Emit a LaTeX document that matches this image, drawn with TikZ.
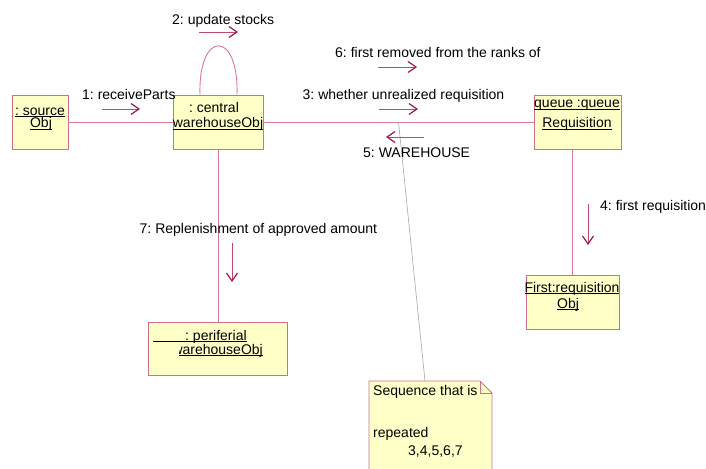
\documentclass[tikz,border=0pt]{standalone}
\usepackage{fontspec}
\setmainfont{Liberation Sans}
\usetikzlibrary{arrows.meta,calc}
\definecolor{linkpink}{RGB}{214,120,150}
\definecolor{msgred}{RGB}{160,24,72}
\definecolor{msgshaft}{RGB}{196,70,110}
\definecolor{boxedge}{RGB}{208,112,136}
\definecolor{boxfill}{RGB}{255,255,200}
\newcommand{\uo}[1]{\underline{\smash{#1}}}
\frenchspacing
\begin{document}
\begin{tikzpicture}[x=1pt, y=-1pt,
		every node/.style={font=\fontsize{14}{16}\selectfont, inner sep=0pt},
		objbox/.style={draw=boxedge, fill=boxfill, line width=0.9pt},
		link/.style={draw=linkpink, line width=0.9pt},
		msg/.style={draw=msgshaft, line width=0.9pt, -{Straight Barb[length=8pt,width=11pt,color=msgred,line width=1.2pt]}},
		txt/.style={anchor=base west},
		ctxt/.style={anchor=base}]
		\useasboundingbox (0,0) rectangle (706,468);
		
		% oggetti
		\node[objbox, minimum width=56pt, minimum height=54pt] (src) at (40,122) {};
		\node[objbox, minimum width=90pt, minimum height=54pt] (cw) at (218,122) {};
		\node[objbox, minimum width=87pt, minimum height=54pt] (q) at (577.5,122) {};
		\node[objbox, minimum width=93pt, minimum height=54pt] (fr) at (572.5,302) {};
		\node[objbox, minimum width=139pt, minimum height=53pt] (pw) at (218,348.5) {};
		
		% collegamenti
		\draw[link] (src) -- (cw);
		\draw[link] (cw) -- (q);
		\draw[link] (cw) -- (pw);
		\draw[link] (fr.north) -- (fr.north |- q.south);
		\draw[link] ([xshift=-18pt]cw.north) .. controls +(-2,-65) and +(2,-65) .. ([xshift=19pt]cw.north);
		
		% nota
		\coordinate (ntail) at ($(cw.east)!0.5!(q.west)$);
		\coordinate (ntop) at (425,381);
		\draw[color=gray!70, line width=0.6pt] (ntail) -- (ntop);
		\draw[objbox] (369,472) -- (369,381) -- (480,381) -- (492,393) -- (492,472);
		\draw[color=boxedge, line width=0.9pt] (480,381) -- (480,393) -- (492,393);
		\node[txt] (nA) at (373,395) {Sequence that is};
		\node[txt] (nB) at (373,437) {repeated};
		\node[txt] (nC) at (408,455) {3,4,5,6,7};
		
		% testi degli oggetti
		\node[ctxt] (srcA) at (40,115) {\uo{: source}};
		\node[ctxt] (srcB) at (41,128) {\uo{Obj}};
		\node[ctxt] (cwA) at (214,113) {: central};
		\node[ctxt] (cwB) at (218,128) {\uo{warehouseObj}};
		\node[ctxt] (qA) at (577,108) {\uo{queue :queue}};
		\node[ctxt] (qB) at (577,128) {\uo{Requisition}};
		\node[ctxt] (frA) at (572,292) {\uo{First:requisition}};
		\node[ctxt] (frB) at (568,308) {\uo{Obj}};
		\node[txt] (pwA) at (153,340) {\uo{\hspace{32pt}: periferial}};
		\begin{scope}
			\clip (179,330) rectangle (290,370);
			\node[anchor=base east] (pwB) at (263,354) {\uo{warehouseObj}};
		\end{scope}
		
		% messaggi
		\node[txt] (m1) at (82,100) {1: receiveParts};
		\draw[msg] (102,109) -- (140,109);
		\node[txt] (m2) at (172,25) {2: update stocks};
		\draw[msg] (199,32) -- (238,32);
		\node[txt] (m3) at (302.5,100) {3: whether unrealized requisition};
		\draw[msg] (379,109) -- (418,109);
		\node[txt] (m4) at (600,210) {4: first requisition};
		\draw[msg] (588,204) -- (588,245);
		\node[txt] (m5) at (363,157) {5: WAREHOUSE};
		\draw[msg] (424,137) -- (386,137);
		\node[txt] (m6) at (335,58) {6: first removed from the ranks of};
		\draw[msg] (378,67) -- (417,67);
		\node[txt] (m7) at (139.5,233) {7: Replenishment of approved amount};
		\draw[msg] (232,243) -- (232,282);
		
	\end{tikzpicture}
\end{document}
